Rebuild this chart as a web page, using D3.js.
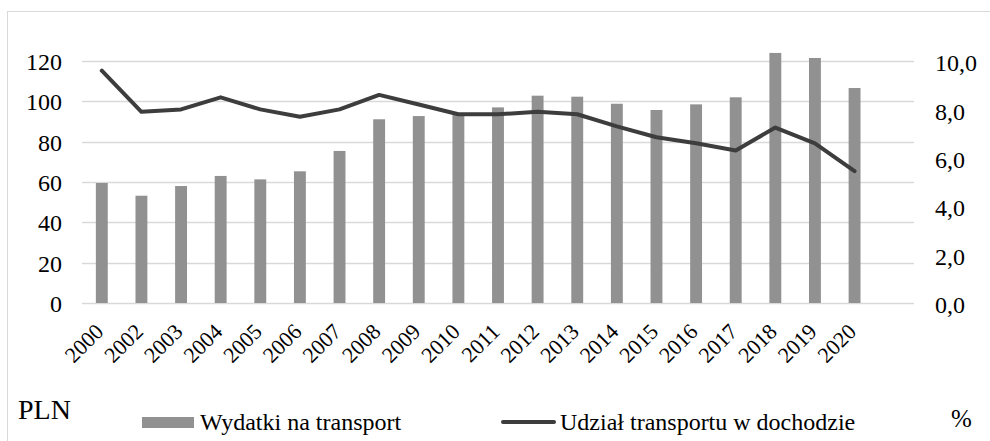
<!DOCTYPE html>
<html>
<head>
<meta charset="utf-8">
<script src="https://cdn.jsdelivr.net/npm/d3@7"></script>
<style>
  body { margin: 0; background: #fff; }
  svg text { font-family: "Liberation Serif", "Times New Roman", Times, serif; fill: #000; }
</style>
</head>
<body>
<div id="chart"></div>
<script>
// Data
var years = ['2000', '2002', '2003', '2004', '2005', '2006', '2007', '2008', '2009', '2010',
    '2011', '2012', '2013', '2014', '2015', '2016', '2017', '2018', '2019', '2020'];
var spending = [59.5, 53.2, 58.0, 63.0, 61.3, 65.3, 75.4, 91.1, 92.7, 94.0,
    97.0, 102.8, 102.3, 98.8, 95.7, 98.5, 102.0, 124.0, 121.5, 106.6];
var share = [9.6, 7.9, 8.0, 8.5, 8.0, 7.7, 8.0, 8.6, 8.2, 7.8,
    7.8, 7.9, 7.8, 7.3, 6.85, 6.6, 6.3, 7.25, 6.6, 5.45];
var leftTicks = [0, 20, 40, 60, 80, 100, 120];
var rightTicks = [0, 2, 4, 6, 8, 10];

var fullWidth = 990;
var fullHeight = 441;
var margin = { top: 61, right: 76, bottom: 138, left: 82 };
var width = fullWidth - margin.left - margin.right;
var height = fullHeight - margin.top - margin.bottom;

var barColor = '#919191';
var lineColor = '#3d3d3d';
var gridColor = '#d9d9d9';
var serif = '"Liberation Serif", "Times New Roman", Times, serif';

var svg = d3.select('#chart').append('svg')
    .attr('width', fullWidth)
    .attr('height', fullHeight)
    .attr('font-family', serif);

// outer frame
svg.append('rect')
    .attr('x', 7.5)
    .attr('y', 11.5)
    .attr('width', fullWidth)
    .attr('height', fullHeight)
    .attr('fill', 'none')
    .attr('stroke', gridColor);

var g = svg.append('g')
    .attr('transform', 'translate(' + margin.left + ',' + margin.top + ')');

// Excel leaves one empty slot at the right end, so the years fill 20/21 of the width
var xScale = d3.scaleBand()
    .domain(years)
    .range([0, width * 20 / 21]);
var bw = xScale.bandwidth();

var yLeft = d3.scaleLinear().domain([0, 120]).range([height, 0]);
var yRight = d3.scaleLinear().domain([0, 10]).range([height, 0]);

// gridlines
g.append('g')
    .selectAll('line')
    .data(leftTicks).enter()
    .append('line')
    .attr('x1', 0)
    .attr('x2', width)
    .attr('y1', function (d) { return Math.round(yLeft(d)) + 0.5; })
    .attr('y2', function (d) { return Math.round(yLeft(d)) + 0.5; })
    .attr('stroke', gridColor)
    .attr('stroke-width', 1.5);

// left axis
var yAxisL = g.append('g')
    .call(d3.axisLeft(yLeft).tickValues(leftTicks).tickSize(0).tickPadding(20));
yAxisL.attr('font-family', serif);
yAxisL.select('.domain').remove();
yAxisL.selectAll('text')
    .style('font-size', '24px')
    .attr('dy', '0.35em');

// right axis
var yAxisR = g.append('g')
    .attr('transform', 'translate(' + width + ',0)')
    .call(d3.axisRight(yRight).tickValues(rightTicks).tickSize(0).tickPadding(21)
        .tickFormat(function (d) { return d3.format('.1f')(d).replace('.', ','); }));
yAxisR.attr('font-family', serif);
yAxisR.select('.domain').remove();
yAxisR.selectAll('text')
    .style('font-size', '24px')
    .attr('dy', '0.4em');

// bars
var barData = years.map(function (y, i) { return { year: y, value: spending[i] }; });
g.append('g')
    .selectAll('rect')
    .data(barData).enter()
    .append('rect')
    .attr('x', function (d) { return xScale(d.year) + bw * 0.35; })
    .attr('width', bw * 0.3)
    .attr('y', function (d) { return yLeft(d.value); })
    .attr('height', function (d) { return height - yLeft(d.value); })
    .attr('fill', barColor);

// line on the secondary axis
var lineData = years.map(function (y, i) { return { year: y, value: share[i] }; });
var line = d3.line()
    .x(function (d) { return xScale(d.year) + bw / 2; })
    .y(function (d) { return yRight(d.value); });
g.append('path')
    .datum(lineData)
    .attr('d', line)
    .attr('fill', 'none')
    .attr('stroke', lineColor)
    .attr('stroke-width', 4)
    .attr('stroke-linejoin', 'round')
    .attr('stroke-linecap', 'round');

// x labels, rotated
g.append('g')
    .selectAll('text')
    .data(years).enter()
    .append('text')
    .attr('transform', function (d) {
        return 'translate(' + (xScale(d) + bw / 2 + 3) + ',' + (height + 30) + ')rotate(-45)';
    })
    .style('text-anchor', 'end')
    .style('font-size', '22px')
    .text(function (d) { return d; });

// axis unit labels
svg.append('text')
    .attr('x', 18)
    .attr('y', 419)
    .style('font-size', '28px')
    .text('PLN');

svg.append('text')
    .attr('x', 951)
    .attr('y', 427)
    .style('font-size', '25px')
    .text('%');

// legend
var legend = svg.append('g').attr('class', 'legend');

legend.append('rect')
    .attr('x', 142)
    .attr('y', 417)
    .attr('width', 52)
    .attr('height', 11)
    .attr('fill', barColor);

legend.append('text')
    .attr('x', 200)
    .attr('y', 430)
    .style('font-size', '24px')
    .text('Wydatki na transport');

legend.append('line')
    .attr('x1', 503)
    .attr('x2', 554)
    .attr('y1', 422)
    .attr('y2', 422)
    .attr('stroke', lineColor)
    .attr('stroke-width', 4)
    .attr('stroke-linecap', 'round');

legend.append('text')
    .attr('x', 560)
    .attr('y', 430)
    .style('font-size', '24px')
    .text('Udział transportu w dochodzie');
</script>
</body>
</html>
